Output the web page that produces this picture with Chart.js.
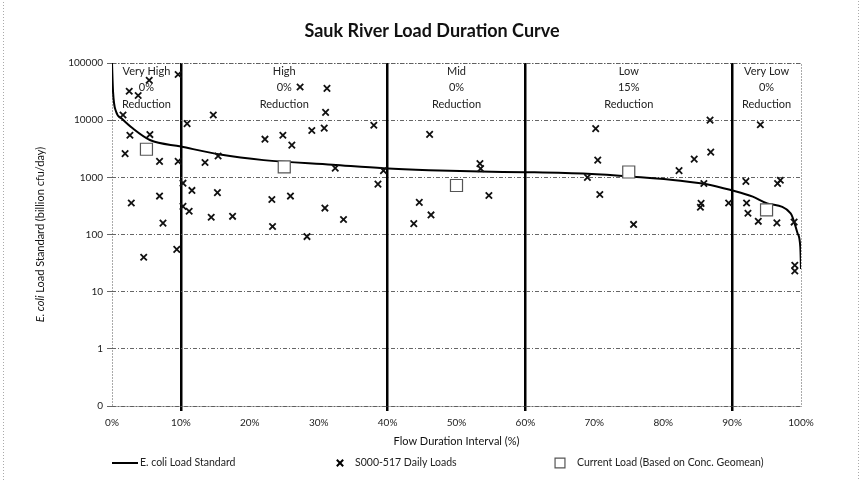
<!DOCTYPE html>
<html>
<head>
<meta charset="utf-8">
<script src="https://cdn.jsdelivr.net/npm/chart.js@4"></script>
<style>
    html, body { margin: 0; padding: 0; background: #fff; }
    #wrap { width: 864px; height: 480px; position: relative; }
</style>
</head>
<body>
<div id="wrap"><canvas id="ldcChart" width="864" height="480"></canvas></div>
<script>
// Load duration curve (flow duration %, billion cfu/day)
const curveX = [0, 0.15, 0.6, 1.4, 3, 5.5, 10, 15.7, 22, 32, 39.4, 46, 53.5, 60, 69, 75.7, 82.5, 87, 89.8, 93, 95.1, 98.5, 99.5, 99.9, 100];
const curveY = [100000, 31600, 14000, 10700, 7200, 4500, 3460, 2500, 2000, 1660, 1440, 1330, 1260, 1230, 1150, 1020, 870, 730, 600, 460, 350, 235, 105, 60, 25];

// S000-517 daily loads
const sampleX = [5.4, 2.5, 3.8, 9.6, 1.6, 2.6, 5.5, 1.9, 6.9, 9.6, 2.8, 6.9, 7.4, 4.6, 9.4,
    10.9, 14.7, 22.2, 24.8, 26.1, 29.0, 30.8, 31.2, 31.0, 27.3, 38.0, 13.5, 15.4, 32.4, 39.4,
    10.3, 11.6, 10.3, 11.2, 15.3, 14.4, 17.5, 23.2, 25.9, 23.3, 28.3, 30.9, 33.6, 38.6,
    44.6, 46.3, 43.8, 46.1, 53.4, 53.5, 54.7,
    70.2, 70.5, 70.8, 69.0, 75.7, 82.3, 86.8, 86.9, 84.5, 85.9, 85.5, 85.4, 89.5,
    94.1, 92.0, 97.0, 96.6, 92.1, 92.3, 93.8, 96.5, 99.0, 99.1, 99.1];
const sampleY = [50000, 32000, 27000, 63000, 12300, 5450, 5600, 2600, 1900, 1900, 355, 470, 158, 40, 55,
    8700, 12300, 4650, 5450, 3660, 6600, 7250, 36000, 13700, 38000, 8150, 1820, 2360, 1450, 1310,
    790, 590, 310, 255, 540, 200, 208, 410, 470, 138, 92, 290, 183, 760,
    365, 220, 155, 5650, 1740, 1420, 480,
    7100, 2000, 500, 1000, 150, 1310, 10000, 2760, 2080, 780, 350, 300, 355,
    8300, 850, 890, 780, 355, 235, 170, 160, 165, 29, 23];

// Current load (based on concentration geomean)
const currentX = [5, 25, 50, 75, 95];
const currentY = [3100, 1520, 720, 1240, 270];

// Flow zones
const zoneBounds = [0, 10, 40, 60, 90, 100];
const zoneNames = ['Very High', 'High', 'Mid', 'Low', 'Very Low'];
const zoneReductions = ['0%', '0%', '0%', '15%', '0%'];

// Axis ticks
const yTicks = [0.1, 1, 10, 100, 1000, 10000, 100000];
const yTickLabels = ['0', '1', '10', '100', '1000', '10000', '100000'];

const FONT = 'Lato, "Open Sans", sans-serif';

function toPoints(xs, ys) {
    return xs.map((x, i) => ({ x: x, y: ys[i] }));
}

// Draws titles, zone labels, plot frame and legend
const decorPlugin = {
    id: 'decor',
    beforeDatasetsDraw(chart) {
        const { ctx, chartArea: a } = chart;
        ctx.save();
        ctx.strokeStyle = '#555';
        ctx.lineWidth = 1;
        ctx.setLineDash([1, 2]);
        ctx.strokeRect(a.left + 0.5, a.top + 0.5, a.right - a.left, a.bottom - a.top);
        ctx.restore();
    },
    afterDraw(chart) {
        const { ctx, chartArea: a, scales } = chart;
        const x = scales.x;
        ctx.save();

        // outer dotted frame
        ctx.strokeStyle = '#aaa';
        ctx.setLineDash([1, 2]);
        ctx.lineWidth = 1;
        ctx.strokeRect(3.5, -2, 855, 484);
        ctx.setLineDash([]);

        // chart title
        ctx.fillStyle = '#111';
        ctx.textAlign = 'center';
        ctx.textBaseline = 'middle';
        ctx.font = 'bold 18px ' + FONT;
        ctx.fillText('Sauk River Load Duration Curve', 432, 31);

        // zone labels
        ctx.font = '11px ' + FONT;
        ctx.fillStyle = '#222';
        zoneNames.forEach((name, i) => {
            const cx = x.getPixelForValue((zoneBounds[i] + zoneBounds[i + 1]) / 2);
            ctx.fillText(name, cx, a.top + 8);
            ctx.fillText(zoneReductions[i], cx, a.top + 24);
            ctx.fillText('Reduction', cx, a.top + 41);
        });

        // x axis title
        ctx.font = '11px ' + FONT;
        ctx.fillStyle = '#111';
        ctx.fillText('Flow Duration Interval (%)', (a.left + a.right) / 2, 441);

        // y axis title with italic E. coli
        ctx.translate(40, (a.top + a.bottom) / 2);
        ctx.rotate(-Math.PI / 2);
        const part1 = 'E. coli';
        const part2 = ' Load Standard (billion cfu/day)';
        ctx.font = 'italic 11px ' + FONT;
        const w1 = ctx.measureText(part1).width;
        ctx.font = '11px ' + FONT;
        const w2 = ctx.measureText(part2).width;
        ctx.textAlign = 'left';
        ctx.font = 'italic 11px ' + FONT;
        ctx.fillText(part1, -(w1 + w2) / 2, 0);
        ctx.font = '11px ' + FONT;
        ctx.fillText(part2, -(w1 + w2) / 2 + w1, 0);
        ctx.setTransform(1, 0, 0, 1, 0, 0);

        // legend
        const ly = 463;
        ctx.font = '10.5px ' + FONT;
        ctx.textAlign = 'left';
        ctx.fillStyle = '#222';
        ctx.strokeStyle = '#000';
        ctx.lineWidth = 2;
        ctx.beginPath();
        ctx.moveTo(a.left, ly);
        ctx.lineTo(a.left + 26, ly);
        ctx.stroke();
        ctx.fillText('E. coli Load Standard', a.left + 28, ly);

        Chart.helpers.drawPoint(ctx, { pointStyle: 'crossRot', radius: 4.5, borderWidth: 1.8 }, a.left + 228, ly);
        ctx.fillText('S000-517 Daily Loads', a.left + 243, ly);

        ctx.fillStyle = '#fff';
        ctx.strokeStyle = '#555';
        ctx.lineWidth = 1.2;
        Chart.helpers.drawPoint(ctx, { pointStyle: 'rect', radius: 7, borderWidth: 1.2 }, a.left + 448, ly);
        ctx.fillStyle = '#222';
        ctx.fillText('Current Load (Based on Conc. Geomean)', a.left + 465, ly);

        ctx.restore();
    }
};

new Chart(document.getElementById('ldcChart'), {
    type: 'scatter',
    data: {
        datasets: [{
            type: 'line',
            label: 'E. coli Load Standard',
            data: toPoints(curveX, curveY),
            borderColor: '#000',
            borderWidth: 2,
            pointRadius: 0,
            cubicInterpolationMode: 'monotone',
            order: 3
        }, {
            label: 'S000-517 Daily Loads',
            data: toPoints(sampleX, sampleY),
            pointStyle: 'crossRot',
            pointRadius: 4.5,
            borderColor: '#111',
            borderWidth: 1.8,
            order: 2
        }, {
            label: 'Current Load (Based on Conc. Geomean)',
            data: toPoints(currentX, currentY),
            pointStyle: 'rect',
            pointRadius: 8.5,
            backgroundColor: '#fff',
            borderColor: '#555',
            borderWidth: 1.2,
            order: 1
        }]
    },
    options: {
        responsive: false,
        animation: false,
        layout: { padding: { left: 0, right: 63, top: 63, bottom: 0 } },
        plugins: {
            legend: { display: false },
            title: { display: false },
            tooltip: { enabled: false }
        },
        scales: {
            x: {
                type: 'linear',
                min: 0,
                max: 100,
                afterFit: (scale) => { scale.height = 74; },
                border: { display: false },
                grid: {
                    color: (c) => zoneBounds.slice(1, -1).includes(c.tick.value) ? '#000' : 'rgba(0,0,0,0)',
                    lineWidth: (c) => zoneBounds.slice(1, -1).includes(c.tick.value) ? 2.5 : 0,
                    tickLength: 5
                },
                ticks: {
                    stepSize: 10,
                    padding: 6,
                    color: '#222',
                    font: { family: FONT, size: 10 },
                    maxRotation: 0,
                    callback: (v) => v + '%'
                }
            },
            y: {
                type: 'logarithmic',
                min: 0.1,
                max: 100000,
                afterFit: (scale) => { scale.width = 112; },
                afterBuildTicks: (scale) => { scale.ticks = yTicks.map(v => ({ value: v })); },
                border: { display: false, dash: [4, 2, 1, 2] },
                grid: {
                    color: '#555',
                    lineWidth: 0.9,
                    tickLength: 5,
                    tickBorderDash: [],
                },
                ticks: {
                    padding: 4,
                    color: '#222',
                    font: { family: FONT, size: 10 },
                    callback: (v, i) => yTickLabels[i]
                }
            }
        }
    },
    plugins: [decorPlugin]
});
</script>
</body>
</html>
